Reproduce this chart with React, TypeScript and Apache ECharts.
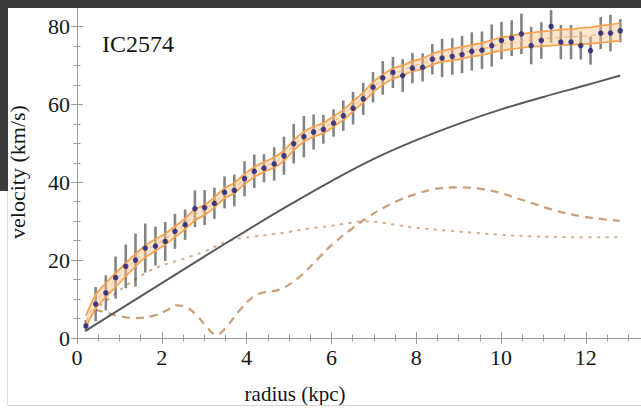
import React, { useEffect, useRef } from "react";
import * as echarts from "echarts";

// ---- data ----
const radii = [
  0.21, 0.44, 0.68, 0.91, 1.15, 1.38, 1.61, 1.85, 2.08, 2.31, 2.55, 2.78, 3.01, 3.24,
  3.48, 3.71, 3.95, 4.18, 4.41, 4.65, 4.88, 5.11, 5.35, 5.58, 5.81, 6.05, 6.28, 6.51,
  6.75, 6.98, 7.21, 7.45, 7.68, 7.91, 8.15, 8.38, 8.61, 8.85, 9.08, 9.31, 9.55, 9.78,
  10.01, 10.25, 10.48, 10.71, 10.95, 11.18, 11.41, 11.65, 11.88, 12.11, 12.35, 12.58, 12.81,
];
const velocities = [
  3.1, 8.7, 11.6, 15.5, 18.4, 20.0, 23.1, 23.6, 24.8, 27.4, 29.1, 33.2, 33.5, 34.6,
  37.4, 37.9, 40.9, 42.8, 43.6, 44.7, 46.8, 49.9, 51.7, 52.9, 53.6, 55.2, 57.1, 59.0,
  61.4, 64.4, 66.8, 68.2, 67.4, 69.3, 69.5, 71.6, 71.9, 72.3, 72.8, 73.6, 73.9, 75.1,
  76.4, 77.0, 78.1, 75.1, 76.4, 80.0, 76.0, 76.0, 75.1, 73.8, 78.3, 78.3, 78.9,
];
const velocityErrors = [
  1.5, 4.4, 4.5, 5.4, 5.6, 6.8, 6.3, 5.0, 5.0, 4.5, 3.9, 4.7, 4.5, 4.0,
  4.1, 4.1, 4.5, 4.3, 3.6, 4.3, 4.9, 5.1, 5.3, 4.5, 3.7, 3.5, 3.9, 4.2,
  4.1, 3.9, 4.3, 4.0, 4.2, 3.9, 3.6, 3.9, 4.9, 4.7, 4.8, 4.9, 4.8, 5.4,
  4.8, 4.6, 5.2, 4.8, 4.7, 4.2, 4.4, 4.4, 3.6, 3.6, 4.1, 4.7, 3.0,
];
const fitCenter = [
  4.2, 9.3, 12.3, 14.9, 17.5, 20.0, 22.2, 23.9, 25.4, 27.3, 29.3, 31.6, 32.9, 34.8,
  37.2, 38.5, 40.8, 42.6, 43.9, 45.1, 46.8, 49.5, 51.7, 53.0, 53.9, 55.6, 57.3, 59.5,
  61.8, 64.4, 66.3, 67.9, 68.7, 69.8, 70.4, 71.6, 72.3, 72.8, 73.2, 73.8, 74.2, 74.9,
  75.5, 75.9, 76.3, 76.6, 76.8, 77.0, 77.2, 77.3, 77.5, 77.7, 78.0, 78.3, 78.6,
];
const fitHalfWidth = [
  1.5, 1.8, 1.8, 1.8, 1.7, 1.6, 1.5, 1.5, 1.4, 1.4, 1.4, 1.4, 1.3, 1.3,
  1.3, 1.3, 1.3, 1.3, 1.3, 1.3, 1.3, 1.3, 1.3, 1.3, 1.3, 1.3, 1.3, 1.3,
  1.3, 1.3, 1.3, 1.3, 1.3, 1.3, 1.4, 1.4, 1.4, 1.5, 1.5, 1.5, 1.6, 1.6,
  1.7, 1.7, 1.8, 1.8, 1.9, 1.9, 2.0, 2.0, 2.1, 2.1, 2.2, 2.2, 2.3,
];
const solidCurve = [
  [0.21, 1.9], [1, 7.3], [2, 14.1], [3, 20.9], [4, 27.6], [5, 34.1], [6, 40.3],
  [7, 46.0], [8, 50.8], [9, 55.0], [10, 58.7], [11, 61.9], [12, 64.9], [12.81, 67.4],
];
const dashedCurve = [
  [0.42, 7.2], [0.7, 6.5], [1.0, 5.6], [1.4, 5.1], [1.8, 5.7], [2.1, 7.0], [2.35, 8.4],
  [2.6, 7.8], [2.85, 5.5], [3.05, 3.0], [3.29, 0.8], [3.53, 2.9], [3.84, 7.2], [4.24, 11.1],
  [4.79, 12.5], [5.26, 15.8], [5.73, 20.9], [6.05, 24.3], [6.45, 27.8], [6.83, 30.8],
  [7.2, 33.3], [7.62, 35.5], [8.0, 37.0], [8.4, 38.2], [9.0, 38.7], [9.58, 38.2],
  [10.0, 37.2], [10.37, 35.9], [10.8, 34.4], [11.16, 33.1], [11.55, 32.0], [11.94, 31.2],
  [12.4, 30.5], [12.8, 30.1],
];
const dottedCurve = [
  [0.4, 7], [0.8, 10.5], [1.2, 13.8], [1.6, 16.6], [2.0, 18.6], [2.5, 20.3], [3.0, 22.2],
  [3.6, 25.0], [4.2, 26.1], [4.8, 26.9], [5.4, 28.0], [6.0, 28.8], [6.4, 29.5], [6.8, 30.0],
  [7.2, 29.6], [7.6, 28.9], [8.2, 28.1], [8.8, 27.5], [9.4, 27.0], [10.0, 26.5], [10.8, 26.1],
  [11.6, 25.9], [12.8, 25.9],
];
const xTickLabels = [0, 2, 4, 6, 8, 10, 12];
const yTickLabels = [0, 20, 40, 60, 80];
const galaxyName = "IC2574";
const xTitle = "radius (kpc)";
const yTitle = "velocity (km/s)";

const FONT = "'Liberation Serif', 'DejaVu Serif', serif";
const AXIS_COLOR = "#9c9c9c";

export default function App() {
  const ref = useRef<HTMLDivElement>(null);

  useEffect(() => {
    if (!ref.current) return;
    const chart = echarts.init(ref.current, undefined, { renderer: "svg" });

    const X_MAX = 13.3;
    const Y_MAX = 85;

    const labelX = {
      show: true,
      fontFamily: FONT,
      fontSize: 22,
      color: "#161616",
      margin: 8,
      showMaxLabel: false,
      formatter: (v: number) => (xTickLabels.includes(v) ? String(v) : ""),
    };
    const labelY = {
      show: true,
      fontFamily: FONT,
      fontSize: 22,
      color: "#161616",
      margin: 7,
      showMaxLabel: false,
      formatter: (v: number) => (yTickLabels.includes(v) ? String(v) : ""),
    };

    const baseX = {
      type: "value" as const,
      min: 0,
      max: X_MAX,
      splitLine: { show: false },
      gridIndex: 0,
    };
    const baseY = {
      type: "value" as const,
      min: 0,
      max: Y_MAX,
      splitLine: { show: false },
      gridIndex: 0,
    };

    const lineData = (pts: number[][]) => pts.map((p) => [p[0], p[1]]);

    const option: any = {
      animation: false,
      backgroundColor: "#ffffff",
      grid: { left: 77, right: 0, top: 7, bottom: 71, containLabel: false },
      xAxis: [
        {
          ...baseX,
          position: "bottom",
          interval: 2,
          axisLine: { show: true, lineStyle: { color: AXIS_COLOR, width: 1 } },
          axisTick: { show: true, inside: true, length: 6, lineStyle: { color: AXIS_COLOR } },
          axisLabel: labelX,
        },
        {
          ...baseX,
          position: "bottom",
          interval: 0.5,
          axisLine: { show: false },
          axisTick: { show: true, inside: true, length: 3.5, lineStyle: { color: AXIS_COLOR } },
          axisLabel: { show: false },
        },
        {
          ...baseX,
          position: "top",
          interval: 2,
          axisLine: { show: true, lineStyle: { color: AXIS_COLOR, width: 1 } },
          axisTick: { show: true, inside: true, length: 6, lineStyle: { color: AXIS_COLOR } },
          axisLabel: { show: false },
        },
        {
          ...baseX,
          position: "top",
          interval: 0.5,
          axisLine: { show: false },
          axisTick: { show: true, inside: true, length: 3.5, lineStyle: { color: AXIS_COLOR } },
          axisLabel: { show: false },
        },
      ],
      yAxis: [
        {
          ...baseY,
          position: "left",
          interval: 20,
          axisLine: { show: true, lineStyle: { color: AXIS_COLOR, width: 1 } },
          axisTick: { show: true, inside: true, length: 6, lineStyle: { color: AXIS_COLOR } },
          axisLabel: labelY,
        },
        {
          ...baseY,
          position: "left",
          interval: 5,
          axisLine: { show: false },
          axisTick: { show: true, inside: true, length: 3.5, lineStyle: { color: AXIS_COLOR } },
          axisLabel: { show: false },
        },
        {
          ...baseY,
          position: "right",
          interval: 20,
          axisLine: { show: true, lineStyle: { color: AXIS_COLOR, width: 1 } },
          axisTick: { show: true, inside: true, length: 6, lineStyle: { color: AXIS_COLOR } },
          axisLabel: { show: false },
        },
        {
          ...baseY,
          position: "right",
          interval: 5,
          axisLine: { show: false },
          axisTick: { show: true, inside: true, length: 3.5, lineStyle: { color: AXIS_COLOR } },
          axisLabel: { show: false },
        },
      ],
      series: [
        {
          type: "line",
          name: "dotted",
          data: lineData(dottedCurve),
          smooth: 0.4,
          showSymbol: false,
          lineStyle: { color: "#cfb08f", width: 2, type: [1.6, 7], cap: "round" },
          z: 2,
        },
        {
          type: "line",
          name: "dashed",
          data: lineData(dashedCurve),
          smooth: 0.4,
          showSymbol: false,
          lineStyle: { color: "#c9a27c", width: 2.3, type: [8, 6] },
          z: 2,
        },
        {
          type: "line",
          name: "solid",
          data: lineData(solidCurve),
          smooth: 0.4,
          showSymbol: false,
          lineStyle: { color: "#5a5a5a", width: 2 },
          z: 2,
        },
        {
          type: "custom",
          name: "errors",
          data: radii.map((r, i) => [r, velocities[i], velocityErrors[i]]),
          encode: { x: 0, y: 1 },
          renderItem: (_params: any, api: any) => {
            const x = api.value(0);
            const y = api.value(1);
            const e = api.value(2);
            const p1 = api.coord([x, y - e]);
            const p2 = api.coord([x, y + e]);
            return {
              type: "line",
              shape: { x1: p1[0], y1: p1[1], x2: p2[0], y2: p2[1] },
              style: { stroke: "rgba(85,85,85,0.72)", lineWidth: 2.6 },
            };
          },
          z: 3,
        },
        {
          type: "custom",
          name: "band",
          data: [[radii[0], fitCenter[0]]],
          encode: { x: 0, y: 1 },
          renderItem: (_params: any, api: any) => {
            const upper = radii.map((r, i) => api.coord([r, fitCenter[i] + fitHalfWidth[i]]));
            const lower = radii
              .map((r, i) => api.coord([r, fitCenter[i] - fitHalfWidth[i]]))
              .reverse();
            return {
              type: "polygon",
              shape: { points: upper.concat(lower) },
              style: { fill: "rgba(251,196,140,0.45)" },
            };
          },
          z: 4,
        },
        {
          type: "line",
          name: "upper",
          data: radii.map((r, i) => [r, fitCenter[i] + fitHalfWidth[i]]),
          smooth: 0.3,
          showSymbol: false,
          lineStyle: { color: "#f8a14c", width: 1.7 },
          z: 5,
        },
        {
          type: "line",
          name: "lower",
          data: radii.map((r, i) => [r, fitCenter[i] - fitHalfWidth[i]]),
          smooth: 0.3,
          showSymbol: false,
          lineStyle: { color: "#f8a14c", width: 1.7 },
          z: 5,
        },
        {
          type: "line",
          name: "fit",
          data: radii.map((r, i) => [r, fitCenter[i]]),
          smooth: 0.3,
          showSymbol: false,
          lineStyle: { color: "#f4b070", width: 1, type: [5, 4] },
          z: 5,
        },
        {
          type: "scatter",
          name: "data",
          data: radii.map((r, i) => [r, velocities[i]]),
          symbol: "circle",
          symbolSize: 5.5,
          itemStyle: { color: "#1c1c78" },
          z: 6,
        },
      ],
      graphic: [
        {
          type: "text",
          x: 102,
          y: 44,
          style: {
            text: galaxyName,
            fontFamily: FONT,
            fontSize: 24,
            fill: "#161616",
            align: "left",
            verticalAlign: "middle",
          },
        },
        {
          type: "text",
          x: 295,
          y: 394,
          style: {
            text: xTitle,
            fontFamily: FONT,
            fontSize: 21,
            fill: "#161616",
            align: "center",
            verticalAlign: "middle",
          },
        },
        {
          type: "text",
          x: 17,
          y: 172,
          rotation: Math.PI / 2,
          style: {
            text: yTitle,
            fontFamily: FONT,
            fontSize: 22,
            fill: "#161616",
            align: "center",
            verticalAlign: "middle",
          },
        },
        {
          type: "rect",
          shape: { x: 0, y: 0, width: 641, height: 8 },
          style: { fill: "#3a3a3a" },
          z: 100,
        },
        {
          type: "rect",
          shape: { x: 0, y: 0, width: 8, height: 191 },
          style: { fill: "#3a3a3a" },
          z: 100,
        },
        {
          type: "line",
          shape: { x1: 7.5, y1: 191, x2: 7.5, y2: 405 },
          style: { stroke: "#dcdcdc", lineWidth: 1 },
          z: 100,
        },
        {
          type: "line",
          shape: { x1: 8, y1: 405.5, x2: 641, y2: 405.5 },
          style: { stroke: "#d4d4d4", lineWidth: 1 },
          z: 100,
        },
      ],
    };

    chart.setOption(option);
    return () => chart.dispose();
  }, []);

  return (
    <div
      ref={ref}
      style={{ position: "fixed", left: 0, top: 0, width: 641, height: 409 }}
    />
  );
}
